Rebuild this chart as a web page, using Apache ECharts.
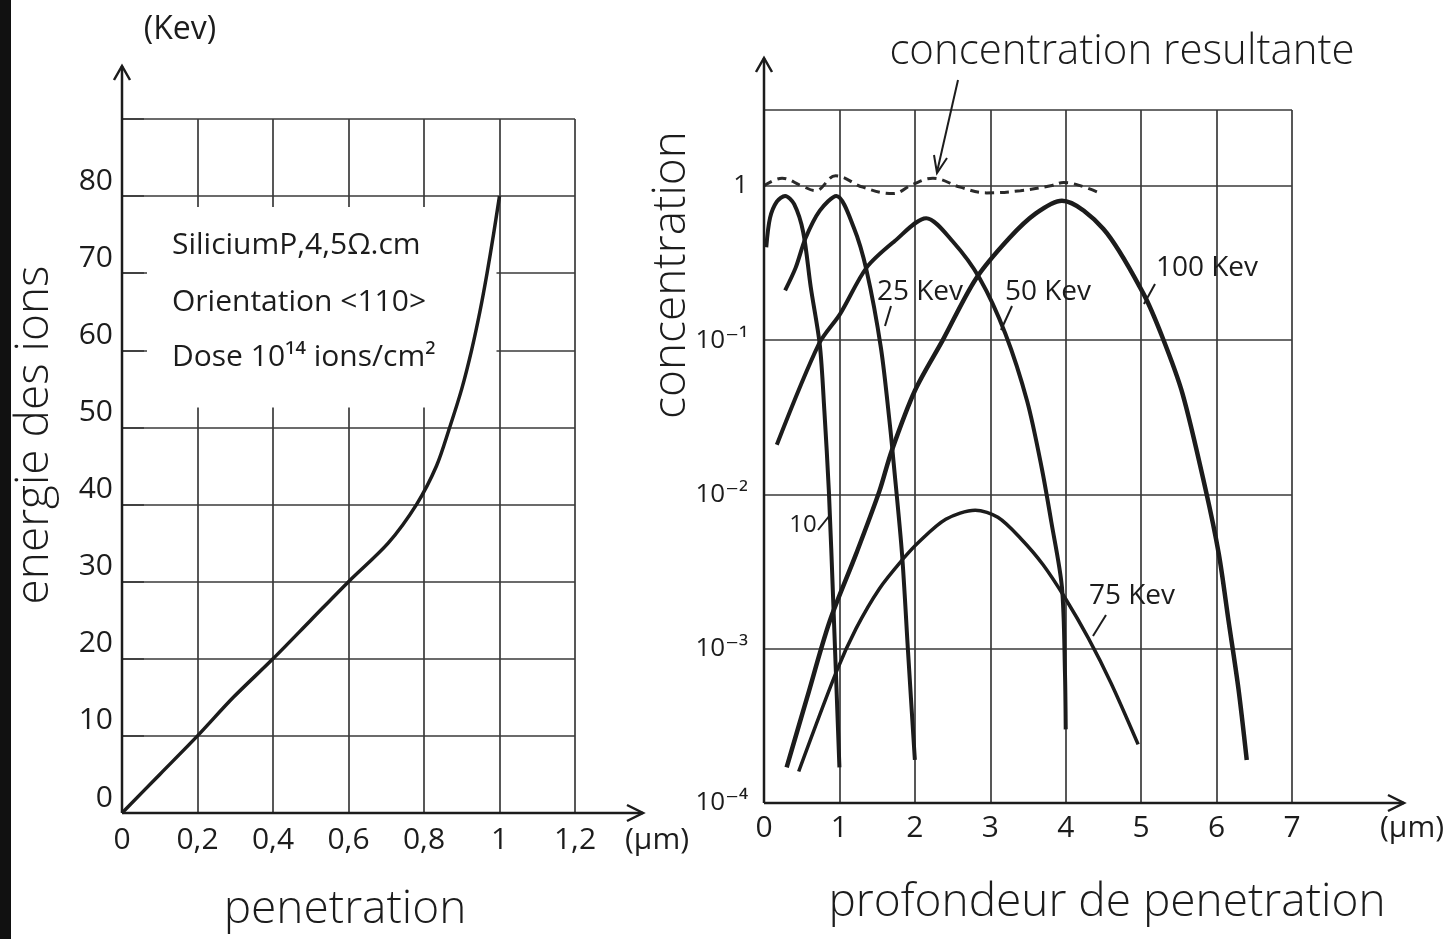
<!DOCTYPE html>
<html><head><meta charset="utf-8">
<script src="https://cdn.jsdelivr.net/npm/echarts@6/dist/echarts.min.js"></script>
<style>html,body{margin:0;padding:0;background:#fff}#c{width:1454px;height:939px}</style>
</head><body><div id="c"></div>
<script>
// ---------- Left chart: energy vs penetration ----------
const penetration = [0, 0.1, 0.2, 0.295, 0.4, 0.5, 0.6, 0.705, 0.78, 0.833, 0.868, 0.9, 0.926, 0.948, 0.967, 0.984, 1.0];
const energy      = [0, 5, 10, 15, 20, 25, 30, 35, 40, 45, 50, 55, 60, 65, 70, 75, 80];
const leftXTicks = ['0', '0,2', '0,4', '0,6', '0,8', '1', '1,2'];
const leftYTicks = ['0', '10', '20', '30', '40', '50', '60', '70', '80'];

// ---------- Right chart: concentration profiles (log scale) ----------
const depth10 = [0.03, 0.08, 0.17, 0.28, 0.40, 0.52, 0.62, 0.74, 0.80, 0.86, 0.92, 1.00];
const conc10  = [0.40, 0.62, 0.79, 0.86, 0.76, 0.50, 0.22, 0.093, 0.035, 0.0105, 0.0019, 0.00017];

const depth25 = [0.28, 0.42, 0.55, 0.74, 0.96, 1.19, 1.36, 1.55, 1.67, 1.72, 1.83, 1.91, 2.0];
const conc25  = [0.21, 0.295, 0.457, 0.69, 0.86, 0.537, 0.282, 0.089, 0.028, 0.0158, 0.0041, 0.00095, 0.00019];

const depth50 = [0.17, 0.73, 1.01, 1.36, 1.73, 2.15, 2.5, 2.86, 3.2, 3.49, 3.68, 3.81, 3.95, 3.99, 4.0];
const conc50  = [0.021, 0.095, 0.148, 0.295, 0.437, 0.617, 0.437, 0.251, 0.11, 0.040, 0.015, 0.0066, 0.0025, 0.0007, 0.0003];

const depth75 = [0.46, 0.96, 1.22, 1.53, 1.84, 2.05, 2.41, 2.8, 3.1, 3.4, 3.7, 4.0, 4.3, 4.6, 4.96];
const conc75  = [0.00016, 0.00071, 0.00135, 0.00245, 0.0038, 0.0049, 0.0069, 0.0079, 0.0071, 0.0052, 0.0035, 0.0021, 0.00117, 0.0006, 0.00024];

const depth100 = [0.3, 0.57, 0.87, 1.22, 1.53, 1.69, 2.0, 2.37, 2.81, 3.25, 3.6, 3.95, 4.5, 5.03, 5.29, 5.55, 5.85, 6.03, 6.16, 6.29, 6.4];
const conc100  = [0.00017, 0.00048, 0.0015, 0.0041, 0.0105, 0.019, 0.047, 0.10, 0.25, 0.457, 0.66, 0.80, 0.525, 0.20, 0.102, 0.0447, 0.011, 0.0041, 0.0015, 0.00055, 0.00019];

const depthSum = [0.0, 0.24, 0.5, 0.68, 0.95, 1.31, 1.71, 1.97, 2.24, 2.6, 2.95, 3.4, 3.8, 3.97, 4.2, 4.47];
const concSum  = [1.0, 1.12, 1.0, 0.93, 1.16, 0.98, 0.89, 1.02, 1.12, 0.98, 0.90, 0.93, 1.0, 1.05, 1.0, 0.89];

const rightXTicks = ['0', '1', '2', '3', '4', '5', '6', '7'];
const rightYTicks = ['10⁻⁴', '10⁻³', '10⁻²', '10⁻¹', '1'];

// ---------- styling ----------
const FONT = '"Open Sans", "DejaVu Sans", sans-serif';
const INK = '#1c1c1c';
const GRIDC = '#3a3a3a';
const lbl = { color: INK, fontFamily: FONT, fontWeight: 400, fontSize: 30 };
const split = { show: true, lineStyle: { color: GRIDC, width: 1.7 } };

function pairs(xs, ys) { return xs.map((x, i) => [x, ys[i]]); }
function curve(name, xs, ys, gi, w) {
  return { name, type: 'line', xAxisIndex: gi, yAxisIndex: gi, data: pairs(xs, ys),
    smooth: 0.3, symbol: 'none', z: 3,
    lineStyle: { color: INK, width: w } };
}

const chart = echarts.init(document.getElementById('c'), null, { renderer: 'canvas' });
chart.setOption({
  backgroundColor: '#ffffff',
  animation: false,
  grid: [
    { left: 122, top: 119, width: 453, height: 694 },
    { left: 764, top: 110, width: 528, height: 693 }
  ],
  xAxis: [
    { gridIndex: 0, type: 'value', min: 0, max: 1.2, interval: 0.2,
      axisLine: { show: false }, axisTick: { show: false }, splitLine: split,
      axisLabel: { ...lbl, margin: 12, formatter: v => leftXTicks[Math.round(v / 0.2)] ?? '' } },
    { gridIndex: 1, type: 'value', min: 0, max: 7, interval: 1,
      axisLine: { show: false }, axisTick: { show: false }, splitLine: split,
      axisLabel: { ...lbl, margin: 10, formatter: v => rightXTicks[Math.round(v)] ?? '' } }
  ],
  yAxis: [
    { gridIndex: 0, type: 'value', min: 0, max: 90, interval: 10,
      axisLine: { show: false },
      axisTick: { show: true, inside: true, length: 22, lineStyle: { color: GRIDC, width: 1.7 } },
      splitLine: split,
      axisLabel: { ...lbl, margin: 9, verticalAlign: 'bottom', formatter: v => leftYTicks[Math.round(v / 10)] ?? '' } },
    { gridIndex: 1, type: 'log', logBase: 10, min: 1e-4, max: 3.1,
      axisLine: { show: false }, axisTick: { show: false }, splitLine: split,
      axisLabel: { ...lbl, fontSize: 26, margin: 16, formatter: v => {
        const l = Math.log10(v), e = Math.round(l);
        return Math.abs(l - e) < 1e-6 ? (rightYTicks[e + 4] ?? '') : '';
      } } }
  ],
  series: [
    curve('penetration', penetration, energy, 0, 3.5),
    curve('10 Kev', depth10, conc10, 1, 4),
    curve('25 Kev', depth25, conc25, 1, 4),
    curve('50 Kev', depth50, conc50, 1, 4),
    curve('75 Kev', depth75, conc75, 1, 3.5),
    curve('100 Kev', depth100, conc100, 1, 4.5),
    { name: 'concentration resultante', type: 'line', xAxisIndex: 1, yAxisIndex: 1,
      data: pairs(depthSum, concSum), smooth: 0.4, symbol: 'none', z: 3,
      lineStyle: { color: '#2a2a2a', width: 3, type: [9, 6] } }
  ]
});

// ---------- annotations (axes arrows, texts, pointers) ----------
function P(gi, x, y) { return chart.convertToPixel({ gridIndex: gi }, [x, y]); }
const els = [];
function seg(x1, y1, x2, y2, w) {
  els.push({ type: 'line', z: 5, shape: { x1, y1, x2, y2 }, style: { stroke: INK, lineWidth: w || 2.5 } });
}
function pl(points, w) {
  els.push({ type: 'polyline', z: 5, shape: { points }, style: { stroke: INK, lineWidth: w || 2.5, fill: null } });
}
function txt(text, x, y, size, opt) {
  opt = opt || {};
  els.push({ type: 'text', z: 10, x, y, rotation: opt.rot || 0,
    style: { text, font: `${opt.w || 400} ${size}px ${FONT}`, fill: INK, align: opt.align || 'center', verticalAlign: 'middle' } });
}
function arrowUp(x, y) { pl([[x - 8, y + 14], [x, y], [x + 8, y + 14]]); }
function arrowRight(x, y) { pl([[x - 16, y - 8], [x, y], [x - 16, y + 8]]); }

// scan edge
els.push({ type: 'rect', z: 0, shape: { x: 0, y: 0, width: 11, height: 939 }, style: { fill: '#111' } });

// left chart frame & cover for text box
const o0 = P(0, 0, 0), t0 = P(0, 1, 80), b0 = P(0, 0, 50), r0 = P(0, 1.2, 0);
els.push({ type: 'rect', z: 1, shape: { x: o0[0] + 25, y: t0[1] + 11, width: t0[0] - 3 - (o0[0] + 25), height: (b0[1] - 20) - (t0[1] + 11) },
  style: { fill: '#ffffff' } });
seg(o0[0], o0[1], o0[0], 66); arrowUp(o0[0], 66);
seg(o0[0], o0[1], r0[0] + 68, o0[1]); arrowRight(r0[0] + 68, o0[1]);

// right chart axes
const o1 = P(1, 0, 1e-4), r1 = P(1, 7, 1e-4);
seg(o1[0], o1[1], o1[0], 58); arrowUp(o1[0], 58);
seg(o1[0], o1[1], r1[0] + 112, o1[1]); arrowRight(r1[0] + 112, o1[1]);

// left texts
txt('(Kev)', 180, 30, 32);
txt('energie des ions', 35, 435, 46, { rot: Math.PI / 2, w: 300 });
txt('penetration', 345, 910, 46, { w: 300 });
txt('(µm)', r0[0] + 82, o0[1] + 27, 30);
txt('SiliciumP,4,5Ω.cm', 172, 245, 30, { align: 'left' });
txt('Orientation <110>', 172, 302, 30, { align: 'left' });
txt('Dose 10¹⁴ ions/cm²', 172, 357, 30, { align: 'left' });

// right texts
txt('concentration', 672, 275, 46, { rot: Math.PI / 2, w: 300 });
txt('profondeur de penetration', 1107, 903, 46, { w: 300 });
txt('(µm)', r1[0] + 88, o1[1] + 25, 30, { align: 'left' });
txt('concentration resultante', 1122, 52, 42, { w: 300 });
seg(958, 80, 937, 172, 2);
pl([[947, 158], [937, 173], [934, 155]], 2);

txt('25 Kev', 920, 292, 28);
seg(891, 306, 885, 326, 2);
txt('50 Kev', 1048, 292, 28);
seg(1012, 306, 1001, 330, 2);
txt('100 Kev', 1207, 268, 28);
seg(1155, 284, 1144, 304, 2);
txt('75 Kev', 1132, 596, 28);
seg(1106, 615, 1093, 636, 2);
txt('10', 803, 525, 24);
seg(818, 530, 830, 515, 2);

chart.setOption({ graphic: { elements: els } });
</script>
</body></html>
